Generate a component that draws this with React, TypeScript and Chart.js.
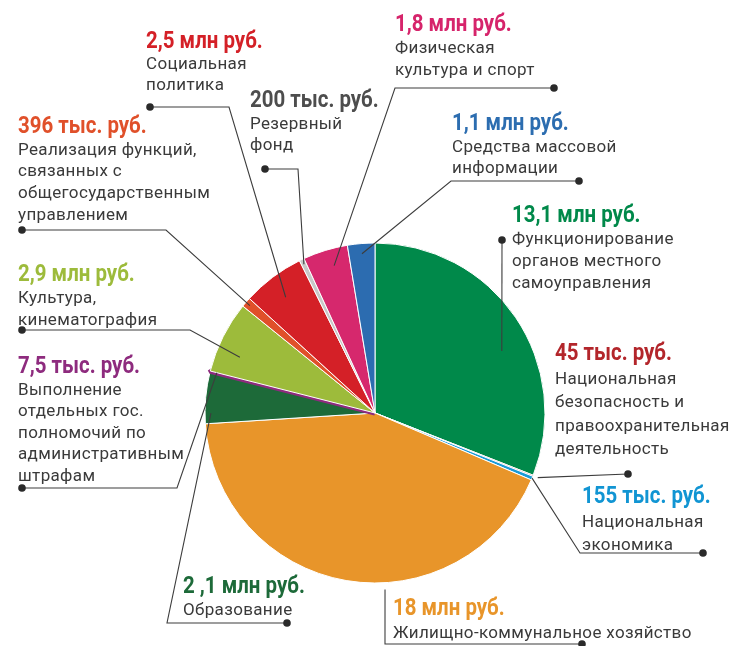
import React, { useEffect, useRef } from "react";
import { Chart, registerables } from "chart.js";

Chart.register(...registerables);

// ---- data (thousand rubles), clockwise from 12 o'clock ----
const categories: string[][] = [
  ["Функционирование", "органов местного", "самоуправления"],
  ["Национальная", "безопасность и", "правоохранительная", "деятельность"],
  ["Национальная", "экономика"],
  ["Жилищно-коммунальное хозяйство"],
  ["Образование"],
  ["Выполнение", "отдельных гос.", "полномочий по", "административным", "штрафам"],
  ["Культура,", "кинематография"],
  ["Реализация функций,", "связанных с", "общегосударственным", "управлением"],
  ["Социальная", "политика"],
  ["Резервный", "фонд"],
  ["Физическая", "культура и спорт"],
  ["Средства массовой", "информации"],
];
const values: number[] = [13100, 45, 155, 18000, 2100, 7.5, 2900, 396, 2500, 200, 1800, 1100];
const valueLabels: string[] = [
  "13,1 млн руб.",
  "45 тыс. руб.",
  "155 тыс. руб.",
  "18 млн руб.",
  "2 ,1 млн руб.",
  "7,5 тыс. руб.",
  "2,9 млн руб.",
  "396 тыс. руб.",
  "2,5 млн руб.",
  "200 тыс. руб.",
  "1,8 млн руб.",
  "1,1 млн руб.",
];

// ---- styles ----
const sliceColors: string[] = [
  "#00894a", "#b3262b", "#1a9bd7", "#e8952a", "#1d6a39", "#8e2b7e",
  "#9dbb3b", "#e0502a", "#d42027", "#c8c8c8", "#d6286d", "#2c6cb0",
];
const titleColors: string[] = [
  "#00894a", "#b3262b", "#1195d3", "#e8952a", "#1d6a39", "#8e2b7e",
  "#9dbb3b", "#e0502a", "#d42027", "#4d4d4d", "#d6246b", "#2c6db0",
];
const borderColors: string[] = sliceColors.map((c, i) => (i === 5 ? c : "#ffffff"));
const borderWidths: number[] = sliceColors.map((_, i) => (i === 5 ? 5 : 1));

// ---- label layout (pixel positions of text and leader geometry) ----
type Layout = {
  x: number; y: number; gap: number;
  corner: [number, number] | null; dot: [number, number];
  t: number; rf: number;
};
const layouts: Layout[] = [
  { x: 512, y: 222, gap: 22, corner: null, dot: [502, 240], t: 0.574, rf: 0.83 },
  { x: 555, y: 360, gap: 23.5, corner: null, dot: [628, 474], t: 0.5, rf: 1.03 },
  { x: 582, y: 503, gap: 23.5, corner: [580, 553], dot: [703, 553], t: 0.5, rf: 1.0 },
  { x: 393, y: 615, gap: 23, corner: [385, 644], dot: [582, 644], t: 0.415, rf: 1.04 },
  { x: 183, y: 593, gap: 22, corner: [167, 623], dot: [287, 623], t: 0.2, rf: 0.965 },
  { x: 18, y: 373, gap: 21.5, corner: [177, 488], dot: [22, 488], t: 0.5, rf: 0.96 },
  { x: 18, y: 281, gap: 22, corner: [190, 330], dot: [22, 330], t: 0.33, rf: 0.86 },
  { x: 18, y: 133, gap: 21.7, corner: [166, 230], dot: [22, 230], t: 0.5, rf: 0.97 },
  { x: 146, y: 48, gap: 21, corner: [229, 107], dot: [150, 107], t: 0.47, rf: 0.86 },
  { x: 250, y: 107, gap: 21.5, corner: [298, 169], dot: [265, 169], t: 0.5, rf: 0.97 },
  { x: 395, y: 31, gap: 22, corner: [395, 88], dot: [554, 88], t: 0.6, rf: 0.9 },
  { x: 452, y: 130, gap: 21.5, corner: [451, 181], dot: [579, 181], t: 0.5, rf: 0.94 },
];

const TITLE_FONT = "bold 23px Roboto";
const BODY_FONT = "17px Roboto";
const TITLE_SX = 0.89;
const BODY_SX = 1.0;
const BODY_SPACING = "0.35px";

function drawScaled(ctx: CanvasRenderingContext2D, text: string, x: number, y: number, sx: number) {
  ctx.save();
  ctx.translate(x, y);
  ctx.scale(sx, 1);
  ctx.fillText(text, 0, 0);
  ctx.restore();
}

const labelPlugin = {
  id: "outLabels",
  afterDraw(chart: any) {
    const ctx: CanvasRenderingContext2D = chart.ctx;
    const meta = chart.getDatasetMeta(0);
    ctx.save();
    // leaders
    layouts.forEach((L, i) => {
      const arc: any = meta.data[i];
      if (!arc) return;
      const p = arc.getProps(["x", "y", "startAngle", "endAngle", "outerRadius"], true);
      const a = p.startAngle + L.t * (p.endAngle - p.startAngle);
      const r = p.outerRadius * L.rf;
      const ex = p.x + Math.cos(a) * r;
      const ey = p.y + Math.sin(a) * r;
      ctx.beginPath();
      ctx.strokeStyle = "#3d3d3d";
      ctx.lineWidth = 1.1;
      ctx.moveTo(ex, ey);
      if (L.corner) ctx.lineTo(L.corner[0], L.corner[1]);
      ctx.lineTo(L.dot[0], L.dot[1]);
      ctx.stroke();
      ctx.beginPath();
      ctx.fillStyle = "#2a2a2a";
      ctx.arc(L.dot[0], L.dot[1], 3.8, 0, Math.PI * 2);
      ctx.fill();
    });
    // texts
    ctx.textBaseline = "alphabetic";
    ctx.textAlign = "left";
    layouts.forEach((L, i) => {
      ctx.font = TITLE_FONT;
      ctx.fillStyle = titleColors[i];
      (ctx as any).letterSpacing = "0px";
      drawScaled(ctx, valueLabels[i], L.x, L.y, TITLE_SX);
      ctx.font = BODY_FONT;
      ctx.fillStyle = "#3a3a3a";
      (ctx as any).letterSpacing = BODY_SPACING;
      categories[i].forEach((line, k) => {
        drawScaled(ctx, line, L.x, L.y + L.gap * (k + 1), BODY_SX);
      });
    });
    ctx.restore();
  },
};

export default function App() {
  const ref = useRef<HTMLCanvasElement | null>(null);
  useEffect(() => {
    document.body.style.margin = "0";
    const canvas = ref.current!;
    const chart = new Chart(canvas, {
      type: "pie",
      data: {
        labels: categories.map((c) => c.join(" ")),
        datasets: [
          {
            data: values,
            backgroundColor: sliceColors,
            borderColor: borderColors,
            borderWidth: borderWidths,
            hoverOffset: 0,
            offset: 0,
          } as any,
        ],
      },
      options: {
        animation: false,
        responsive: false,
        events: [],
        layout: { padding: { left: 202.5, right: 196.5, top: 240.5, bottom: 60.5 } },
        plugins: { legend: { display: false }, tooltip: { enabled: false } },
      },
      plugins: [labelPlugin],
    });
    return () => chart.destroy();
  }, []);
  return (
    <div style={{ position: "fixed", left: 0, top: 0, width: 744, height: 646, background: "#fff" }}>
      <canvas ref={ref} width={744} height={646} style={{ width: 744, height: 646, display: "block" }} />
    </div>
  );
}
